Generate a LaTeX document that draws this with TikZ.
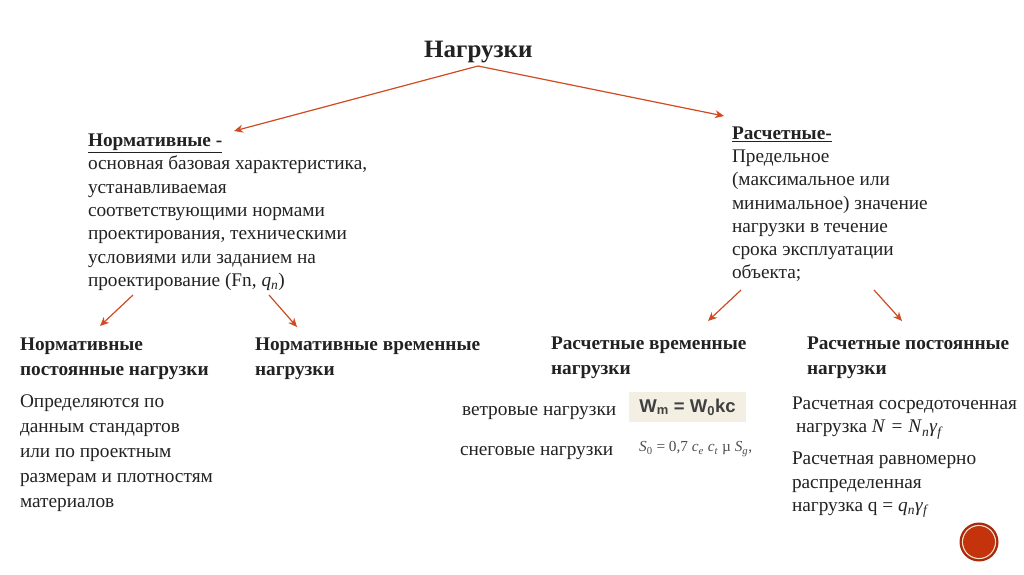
\documentclass[tikz,border=0pt]{standalone}
\usepackage{fontspec}
\setmainfont{Liberation Serif}
\newfontfamily\sansb{Liberation Sans}
\definecolor{arrowred}{HTML}{D04A22}
\definecolor{txt}{HTML}{222222}
\definecolor{badge}{HTML}{C4330B}
\definecolor{badgedark}{HTML}{A82A0C}
\definecolor{ringc}{HTML}{F6DCC0}
\definecolor{beige}{HTML}{F3EFE3}
\usetikzlibrary{arrows.meta}
\newcommand{\isub}[1]{\textsubscript{\textit{#1}}}
\tikzset{
  x=1pt,y=-1pt,
  txtnode/.style={anchor=north west,inner sep=0pt,outer sep=0pt,align=left,text=txt,font=\fontsize{19.3}{23.3}\selectfont},
  headnode/.style={txtnode,font=\fontsize{19.3}{25}\selectfont\bfseries},
  redarrow/.style={draw=arrowred,line width=1.2pt,-{Stealth[length=9pt,width=8pt]}},
}
\begin{document}
\begin{tikzpicture}
\useasboundingbox (0,0) rectangle (1024,574);
\node[anchor=north west,inner sep=0pt,text=txt,font=\fontsize{25}{29}\selectfont\bfseries] (title) at (424,41) {Нагрузки};

\node[txtnode] (norm) at (88,134) {\textbf{\underline{Нормативные -}}\\основная базовая характеристика,\\устанавливаемая\\соответствующими нормами\\проектирования, техническими\\условиями или заданием на\\проектирование (Fn, \textit{q}\isub{n})};
\node[txtnode] (rasch) at (732,126.5) {\textbf{\underline{Расчетные-}}\\Предельное\\(максимальное или\\минимальное) значение\\нагрузки в течение\\срока эксплуатации\\объекта;};

\node[headnode] (h1) at (20,338) {Нормативные\\постоянные нагрузки};
\node[headnode] (h2) at (255,338) {Нормативные временные\\нагрузки};
\node[headnode] (h3) at (551,336.5) {Расчетные временные\\нагрузки};
\node[headnode] (h4) at (807,337) {Расчетные постоянные\\нагрузки};

\node[txtnode,font=\fontsize{19.3}{25}\selectfont] (t1) at (20,395) {Определяются по\\данным стандартов\\или по проектным\\размерам и плотностям\\материалов};
\node[txtnode] (wl) at (462,406.5) {ветровые нагрузки};
\node[txtnode] (sl) at (460,446) {снеговые нагрузки};
\node[fill=beige,minimum width=117pt,minimum height=30pt,inner sep=0pt,text=black!75,font=\sansb\fontsize{18.5}{20}\selectfont\bfseries] (wf) at (687.5,407) {W\textsubscript{m} = W\textsubscript{0}kc};
\node[anchor=west,inner sep=0pt,text=black!70,font=\fontsize{15.3}{17}\selectfont] (sf) at (639,449) {\textit{S}\textsubscript{0} = 0,7 \textit{c}\isub{e} \textit{c}\isub{t} µ \textit{S}\isub{g},};

\node[txtnode] (r1) at (792,397) {Расчетная сосредоточенная\\\hspace{4pt}нагрузка \textit{N} \hspace{1pt}=\hspace{1pt} \textit{N}\isub{n}\textit{γ}\isub{f}};
\node[txtnode,font=\fontsize{19.3}{23.6}\selectfont] (r2) at (792,452) {Расчетная равномерно\\распределенная\\нагрузка q = \textit{q}\isub{n}\textit{γ}\isub{f}};

\coordinate (a0) at (478,66);
\coordinate (a1) at (234,131);
\coordinate (a2) at (724,116);
\coordinate (b1s) at (133,295);
\coordinate (b1e) at (100,326);
\coordinate (b2s) at (269,295);
\coordinate (b2e) at (297,327);
\coordinate (b3s) at (741,290);
\coordinate (b3e) at (708,321);
\coordinate (b4s) at (874,290);
\coordinate (b4e) at (902,321);
\draw[redarrow] (a0) -- (a1);
\draw[redarrow] (a0) -- (a2);
\draw[redarrow] (b1s) -- (b1e);
\draw[redarrow] (b2s) -- (b2e);
\draw[redarrow] (b3s) -- (b3e);
\draw[redarrow] (b4s) -- (b4e);

\fill[badgedark] (979,542) circle (19.5);
\draw[ringc,line width=1.2pt] (979,542) circle (16.5);
\fill[badge] (979,542) circle (15.5);
\end{tikzpicture}
\end{document}
